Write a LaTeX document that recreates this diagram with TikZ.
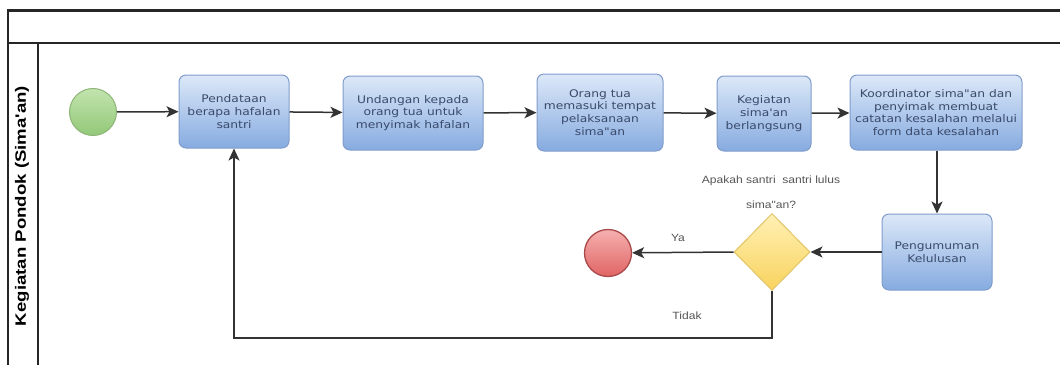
\documentclass[tikz,border=0pt]{standalone}
\usepackage{fontspec}
\usetikzlibrary{arrows.meta,shapes.geometric}
\newfontfamily\boxfont[FakeStretch=1.17]{DejaVu Sans}
\newfontfamily\lblfont[FakeStretch=1.15]{Liberation Sans}
\newfontfamily\lanefont[FakeStretch=1.24]{Liberation Sans Bold}
\definecolor{boxtop}{HTML}{DCE8F8}
\definecolor{boxbot}{HTML}{86ABE0}
\definecolor{boxdraw}{HTML}{7F9CCB}
\definecolor{boxtext}{HTML}{3A4A6B}
\definecolor{lbltext}{HTML}{555555}
\definecolor{linecol}{HTML}{333333}
\definecolor{sttop}{HTML}{C3E4AE}
\definecolor{stbot}{HTML}{92C878}
\definecolor{stdraw}{HTML}{8DB577}
\definecolor{entop}{HTML}{F6B0B0}
\definecolor{enbot}{HTML}{E06464}
\definecolor{endraw}{HTML}{A84A4A}
\definecolor{gttop}{HTML}{FFF0B4}
\definecolor{gtbot}{HTML}{F8D35E}
\definecolor{gtdraw}{HTML}{E0C468}
\begin{document}
\begin{tikzpicture}[x=1pt,y=-1pt,
  taskbox/.style={draw=boxdraw,line width=1pt,rounded corners=7pt,
    top color=boxtop,bottom color=boxbot,align=center,inner sep=0pt,
    font=\boxfont\fontsize{10.5}{12.7}\selectfont,text=boxtext},
  startev/.style={circle,draw=stdraw,line width=1pt,top color=sttop,bottom color=stbot,minimum size=47pt,inner sep=0pt},
  endev/.style={circle,draw=endraw,line width=1.3pt,top color=entop,bottom color=enbot,minimum size=47pt,inner sep=0pt},
  gate/.style={diamond,draw=gtdraw,line width=1pt,top color=gttop,bottom color=gtbot,minimum width=76pt,minimum height=77pt,inner sep=0pt,aspect=1},
  lbl/.style={font=\lblfont\fontsize{10.5}{12}\selectfont,text=lbltext,inner sep=0pt},
  flow/.style={draw=linecol,line width=1.5pt,-{Stealth[length=12pt,width=11pt,inset=3pt]}},
  lane/.style={draw=black!85,line width=1.5pt}
]
\useasboundingbox (0,0) rectangle (1060,365);
% pool / lane frame
\draw[lane,line width=2.8pt] (8,10.5) -- (1060,10.5);
\draw[lane] (8,43) -- (1060,43);
\draw[lane] (8,9) -- (8,365);
\draw[lane] (38,43) -- (38,365);
\node[rotate=90,font=\lanefont\fontsize{15}{16}\selectfont,inner sep=0pt] (lanelbl) at (22,206) {Kegiatan Pondok (Sima'an)};

% nodes
\node[startev] (start) at (93,112) {};
\node[taskbox,minimum width=110pt,minimum height=73pt] (b1) at (234,111.5) {Pendataan\\berapa hafalan\\santri};
\node[taskbox,minimum width=140pt,minimum height=74pt] (b2) at (413,113) {Undangan kepada\\orang tua untuk\\menyimak hafalan};
\node[taskbox,minimum width=126pt,minimum height=77pt] (b3) at (600,112.5) {Orang tua\\memasuki tempat\\pelaksanaan\\sima"an};
\node[taskbox,minimum width=94pt,minimum height=75pt] (b4) at (764,113.5) {Kegiatan\\sima'an\\berlangsung};
\node[taskbox,minimum width=172pt,minimum height=75pt] (b5) at (936,112.5) {Koordinator sima"an dan\\penyimak membuat\\catatan kesalahan melalui\\form data kesalahan};
\node[taskbox,minimum width=110pt,minimum height=76pt] (b6) at (937,252) {Pengumuman\\Kelulusan};
\node[gate] (g) at (772,252) {};
\node[endev] (end) at (608,253) {};

% labels
\node[lbl] (q1) at (771,181) {Apakah santri\ \ santri lulus};
\node[lbl] (q2) at (771,205) {sima"an?};
\node[lbl] (ya) at (678,238) {Ya};
\node[lbl] (tidak) at (687,316) {Tidak};

% connectors
\draw[flow] (start) -- (b1);
\draw[flow] (b1) -- (b2);
\draw[flow] (b2) -- (b3);
\draw[flow] (b3) -- (b4);
\draw[flow] (b4) -- (b5);
\draw[flow] (b5.south -| b6.north) -- (b6.north);
\draw[flow] (b6) -- (g);
\draw[flow] (g.west) -- (end);
\coordinate (c1) at (772,338);
\coordinate (c2) at (234,338);
\draw[flow] (g.south) -- (c1) -- (c2) -- (b1.south);
\end{tikzpicture}
\end{document}
